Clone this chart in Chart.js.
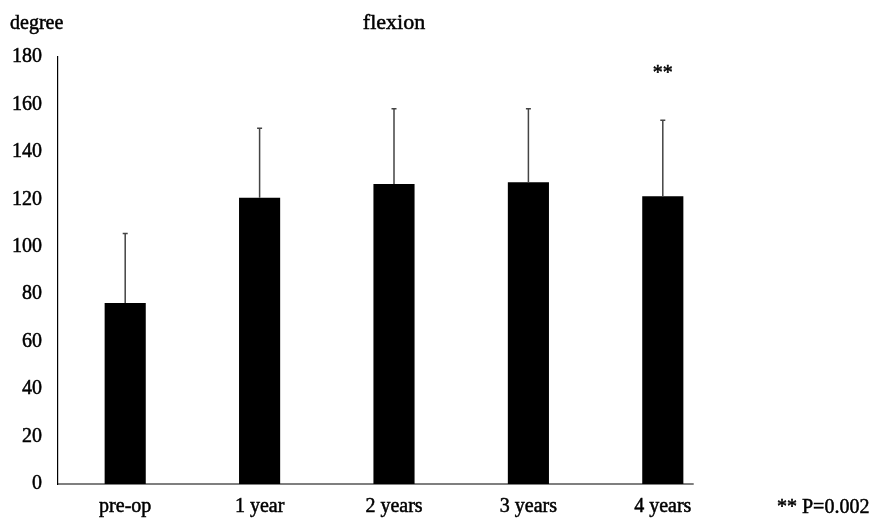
<!DOCTYPE html>
<html>
<head>
<meta charset="utf-8">
<script src="https://cdn.jsdelivr.net/npm/chart.js@4"></script>
<style>
  html, body { margin: 0; padding: 0; background: #fff; }
  #wrap { width: 871px; height: 520px; }
</style>
</head>
<body>
<div id="wrap"><canvas id="c" width="871" height="520"></canvas></div>
<script>
// Range of motion (flexion) over follow-up, mean with upper SD whisker
const categories = ['pre-op', '1 year', '2 years', '3 years', '4 years'];
const meanFlexion = [76.3, 120.7, 126.5, 127.2, 121.3];
const sdFlexion = [29.3, 29.3, 31.7, 31.0, 32.0];
const yTicks = [0, 20, 40, 60, 80, 100, 120, 140, 160, 180];
const significance = ['', '', '', '', '**'];
const significanceY = [0, 0, 0, 0, 173];
const footnote = '** P=0.002';
const chartTitle = 'flexion';
const yUnit = 'degree';

const FONT = '"Liberation Serif", "Times New Roman", serif';
const STROKE = 0.5;

function heavyText(ctx, text, x, y) {
  ctx.strokeText(text, x, y);
  ctx.fillText(text, x, y);
}

const decorations = {
  id: 'decorations',
  afterDatasetsDraw(chart) {
    const { ctx, chartArea, scales } = chart;
    const x = scales.x, y = scales.y;
    const meta = chart.getDatasetMeta(0);
    ctx.save();

    // upper SD whiskers
    ctx.strokeStyle = '#444';
    ctx.lineWidth = 1.5;
    meta.data.forEach((bar, i) => {
      const yTop = y.getPixelForValue(meanFlexion[i] + sdFlexion[i]);
      const yBar = y.getPixelForValue(meanFlexion[i]);
      ctx.beginPath();
      ctx.moveTo(bar.x, yBar);
      ctx.lineTo(bar.x, yTop);
      ctx.moveTo(bar.x - 2.5, yTop);
      ctx.lineTo(bar.x + 2.5, yTop);
      ctx.stroke();
    });

    // baseline ends shortly after the last category
    const step = x.getPixelForValue(1) - x.getPixelForValue(0);
    const baseEnd = x.getPixelForValue(categories.length - 1) + step * 0.23;
    ctx.strokeStyle = '#000';
    ctx.lineWidth = 1.2;
    ctx.beginPath();
    ctx.moveTo(chartArea.left, y.getPixelForValue(0));
    ctx.lineTo(baseEnd, y.getPixelForValue(0));
    ctx.stroke();

    ctx.fillStyle = '#000';
    ctx.strokeStyle = '#000';
    ctx.lineWidth = STROKE;
    ctx.font = '20px ' + FONT;
    ctx.textBaseline = 'middle';

    // significance marks
    ctx.textAlign = 'center';
    significance.forEach((s, i) => {
      if (s) heavyText(ctx, s, x.getPixelForValue(i), y.getPixelForValue(significanceY[i]));
    });

    // footnote beside the category labels
    ctx.textAlign = 'left';
    heavyText(ctx, footnote, 777, 508);

    // title and unit
    ctx.textAlign = 'left';
    heavyText(ctx, yUnit, 10, 24);
    ctx.font = '22px ' + FONT;
    ctx.textAlign = 'center';
    heavyText(ctx, chartTitle, (chartArea.left + chartArea.right) / 2, 23);
    ctx.restore();
  }
};

new Chart(document.getElementById('c'), {
  type: 'bar',
  data: {
    labels: categories,
    datasets: [{
      data: meanFlexion,
      backgroundColor: '#000',
      borderWidth: 0,
      barPercentage: 0.306,
      categoryPercentage: 1.0
    }]
  },
  options: {
    responsive: false,
    animation: false,
    layout: { padding: { top: 57, right: 141, left: 0, bottom: 0 } },
    plugins: { legend: { display: false }, tooltip: { enabled: false }, title: { display: false } },
    scales: {
      x: {
        grid: { display: false, drawTicks: false },
        border: { display: false },
        ticks: {
          color: '#000', font: { family: FONT, size: 20 }, padding: 11, maxRotation: 0,
          textStrokeColor: '#000', textStrokeWidth: STROKE
        },
        afterFit(scale) { scale.height = 36; }
      },
      y: {
        min: 0, max: 180,
        afterBuildTicks(scale) { scale.ticks = yTicks.map(v => ({ value: v })); },
        grid: { display: false, drawTicks: false },
        border: { display: true, color: '#000', width: 1.2 },
        ticks: {
          color: '#000', font: { family: FONT, size: 20 }, padding: 16,
          textStrokeColor: '#000', textStrokeWidth: STROKE
        },
        afterFit(scale) { scale.width = 58; }
      }
    }
  },
  plugins: [decorations]
});
</script>
</body>
</html>
